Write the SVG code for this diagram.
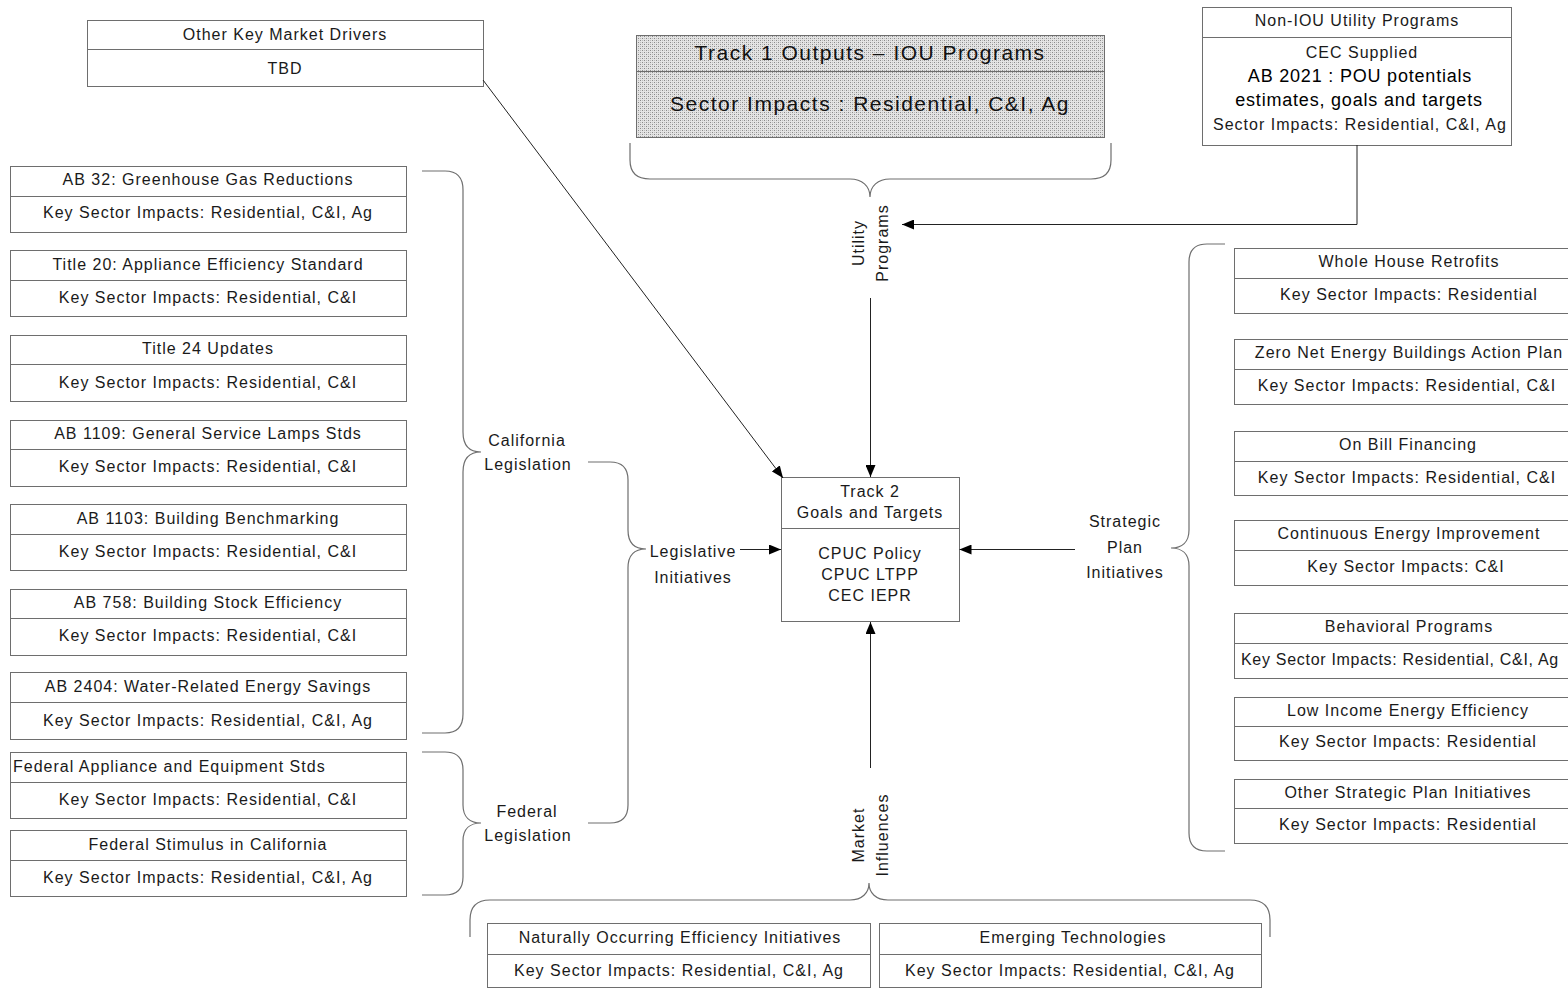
<svg xmlns="http://www.w3.org/2000/svg" width="1568" height="988" viewBox="0 0 1568 988">
  <style>
    text { font-family: "Liberation Sans", Arial, sans-serif; font-size: 16px; letter-spacing: 1px; fill: #1a1a1a; text-anchor: middle; dominant-baseline: central; }
    .box { fill: #ffffff; stroke: #6e6e6e; stroke-width: 1; }
    .div { stroke: #6e6e6e; stroke-width: 1; }
    .brace { fill: none; stroke: #6e6e6e; stroke-width: 1.2; }
    .conn { fill: none; stroke: #222; stroke-width: 1; }
    .big { font-size: 21px; letter-spacing: 1.5px; fill: #111; }
    .mid { font-size: 18px; letter-spacing: 0.8px; fill: #000; }
    .left { text-anchor: start; }
    .tight { letter-spacing: 0.7px; }
  </style>
  <defs>
    <pattern id="stipple" width="4" height="4" patternUnits="userSpaceOnUse">
      <rect width="4" height="4" fill="#e4e4e4"/>
      <rect x="0" y="0" width="1" height="1" fill="#8a8a8a"/>
      <rect x="2" y="2" width="1" height="1" fill="#8a8a8a"/>
      <rect x="2" y="0" width="1" height="1" fill="#bcbcbc"/>
      <rect x="0" y="2" width="1" height="1" fill="#bcbcbc"/>
    </pattern>
    <marker id="arrow" viewBox="0 0 12 10" refX="12" refY="5" markerWidth="12" markerHeight="10" markerUnits="userSpaceOnUse" orient="auto">
      <path d="M0,0 L12,5 L0,10 Z" fill="#000"/>
    </marker>
  </defs>

  <rect width="1568" height="988" fill="#ffffff"/>

  <!-- top nodes -->
  <g id="other-drivers">
    <rect class="box" x="87.5" y="20.5" width="396" height="66"/>
    <line class="div" x1="87.5" y1="49.5" x2="483.5" y2="49.5"/>
    <text x="285" y="34">Other Key Market Drivers</text>
    <text x="285" y="68">TBD</text>
  </g>

  <g id="track1">
    <rect x="636.5" y="35.5" width="468" height="102" fill="url(#stipple)" stroke="#6e6e6e"/>
    <line class="div" x1="636.5" y1="71.5" x2="1104.5" y2="71.5"/>
    <text class="big" x="870" y="52">Track 1 Outputs – IOU Programs</text>
    <text class="big" x="870" y="103">Sector Impacts : Residential, C&amp;I, Ag</text>
  </g>

  <g id="non-iou">
    <rect class="box" x="1202.5" y="7.5" width="309" height="138"/>
    <line class="div" x1="1202.5" y1="37.5" x2="1511.5" y2="37.5"/>
    <text x="1357" y="20">Non-IOU Utility Programs</text>
    <text x="1362" y="52">CEC Supplied</text>
    <text class="mid" x="1360" y="76">AB 2021 : POU potentials</text>
    <text class="mid" x="1359" y="100">estimates, goals and targets</text>
    <text x="1360" y="124">Sector Impacts: Residential, C&amp;I, Ag</text>
  </g>

  <!-- central node -->
  <g id="track2">
    <rect class="box" x="781.5" y="477.5" width="178" height="144"/>
    <line class="div" x1="781.5" y1="528.5" x2="959.5" y2="528.5"/>
    <text x="870" y="491">Track 2</text>
    <text x="870" y="512">Goals and Targets</text>
    <text x="870" y="553">CPUC Policy</text>
    <text x="870" y="574">CPUC LTPP</text>
    <text x="870" y="595">CEC IEPR</text>
  </g>

  <!-- California / federal legislation column -->
  <g id="ab32">
    <rect class="box" x="10.5" y="166.5" width="396" height="66"/>
    <line class="div" x1="10.5" y1="196.5" x2="406.5" y2="196.5"/>
    <text x="208" y="179">AB 32: Greenhouse Gas Reductions</text>
    <text x="208" y="212">Key Sector Impacts: Residential, C&amp;I, Ag</text>
  </g>
  <g id="title20">
    <rect class="box" x="10.5" y="250.5" width="396" height="66"/>
    <line class="div" x1="10.5" y1="280.5" x2="406.5" y2="280.5"/>
    <text x="208" y="264">Title 20: Appliance Efficiency Standard</text>
    <text x="208" y="297">Key Sector Impacts: Residential, C&amp;I</text>
  </g>
  <g id="title24">
    <rect class="box" x="10.5" y="335.5" width="396" height="66"/>
    <line class="div" x1="10.5" y1="364.5" x2="406.5" y2="364.5"/>
    <text x="208" y="348">Title 24 Updates</text>
    <text x="208" y="382">Key Sector Impacts: Residential, C&amp;I</text>
  </g>
  <g id="ab1109">
    <rect class="box" x="10.5" y="420.5" width="396" height="66"/>
    <line class="div" x1="10.5" y1="449.5" x2="406.5" y2="449.5"/>
    <text x="208" y="433">AB 1109: General Service Lamps Stds</text>
    <text x="208" y="466">Key Sector Impacts: Residential, C&amp;I</text>
  </g>
  <g id="ab1103">
    <rect class="box" x="10.5" y="504.5" width="396" height="66"/>
    <line class="div" x1="10.5" y1="534.5" x2="406.5" y2="534.5"/>
    <text x="208" y="518">AB 1103: Building Benchmarking</text>
    <text x="208" y="551">Key Sector Impacts: Residential, C&amp;I</text>
  </g>
  <g id="ab758">
    <rect class="box" x="10.5" y="589.5" width="396" height="66"/>
    <line class="div" x1="10.5" y1="618.5" x2="406.5" y2="618.5"/>
    <text x="208" y="602">AB 758: Building Stock Efficiency</text>
    <text x="208" y="635">Key Sector Impacts: Residential, C&amp;I</text>
  </g>
  <g id="ab2404">
    <rect class="box" x="10.5" y="672.5" width="396" height="67"/>
    <line class="div" x1="10.5" y1="702.5" x2="406.5" y2="702.5"/>
    <text x="208" y="686">AB 2404: Water-Related Energy Savings</text>
    <text x="208" y="720">Key Sector Impacts: Residential, C&amp;I, Ag</text>
  </g>
  <g id="federal-appliance">
    <rect class="box" x="10.5" y="752.5" width="396" height="66"/>
    <line class="div" x1="10.5" y1="782.5" x2="406.5" y2="782.5"/>
    <text class="left" x="13" y="766">Federal Appliance and Equipment Stds</text>
    <text x="208" y="799">Key Sector Impacts: Residential, C&amp;I</text>
  </g>
  <g id="federal-stimulus">
    <rect class="box" x="10.5" y="830.5" width="396" height="66"/>
    <line class="div" x1="10.5" y1="860.5" x2="406.5" y2="860.5"/>
    <text x="208" y="844">Federal Stimulus in California</text>
    <text x="208" y="877">Key Sector Impacts: Residential, C&amp;I, Ag</text>
  </g>

  <!-- strategic plan column -->
  <g id="whole-house">
    <rect class="box" x="1234.5" y="248.5" width="350" height="65"/>
    <line class="div" x1="1234.5" y1="278.5" x2="1584.5" y2="278.5"/>
    <text x="1409" y="261">Whole House Retrofits</text>
    <text x="1409" y="294">Key Sector Impacts: Residential</text>
  </g>
  <g id="zne">
    <rect class="box" x="1234.5" y="339.5" width="350" height="65"/>
    <line class="div" x1="1234.5" y1="369.5" x2="1584.5" y2="369.5"/>
    <text x="1409" y="352">Zero Net Energy Buildings Action Plan</text>
    <text x="1407" y="385">Key Sector Impacts: Residential, C&amp;I</text>
  </g>
  <g id="on-bill">
    <rect class="box" x="1234.5" y="431.5" width="350" height="64"/>
    <line class="div" x1="1234.5" y1="461.5" x2="1584.5" y2="461.5"/>
    <text x="1408" y="444">On Bill Financing</text>
    <text x="1407" y="477">Key Sector Impacts: Residential, C&amp;I</text>
  </g>
  <g id="continuous">
    <rect class="box" x="1234.5" y="520.5" width="350" height="65"/>
    <line class="div" x1="1234.5" y1="550.5" x2="1584.5" y2="550.5"/>
    <text x="1409" y="533">Continuous Energy Improvement</text>
    <text x="1406" y="566">Key Sector Impacts: C&amp;I</text>
  </g>
  <g id="behavioral">
    <rect class="box" x="1234.5" y="613.5" width="350" height="65"/>
    <line class="div" x1="1234.5" y1="643.5" x2="1584.5" y2="643.5"/>
    <text x="1409" y="626">Behavioral Programs</text>
    <text class="left tight" x="1241" y="659">Key Sector Impacts: Residential, C&amp;I, Ag</text>
  </g>
  <g id="low-income">
    <rect class="box" x="1234.5" y="697.5" width="350" height="63"/>
    <line class="div" x1="1234.5" y1="726.5" x2="1584.5" y2="726.5"/>
    <text x="1408" y="710">Low Income Energy Efficiency</text>
    <text x="1408" y="741">Key Sector Impacts: Residential</text>
  </g>
  <g id="other-strategic">
    <rect class="box" x="1234.5" y="779.5" width="350" height="64"/>
    <line class="div" x1="1234.5" y1="808.5" x2="1584.5" y2="808.5"/>
    <text x="1408" y="792">Other Strategic Plan Initiatives</text>
    <text x="1408" y="824">Key Sector Impacts: Residential</text>
  </g>

  <!-- market influence boxes -->
  <g id="naturally-occurring">
    <rect class="box" x="487.5" y="923.5" width="383" height="64"/>
    <line class="div" x1="487.5" y1="954.5" x2="870.5" y2="954.5"/>
    <text x="680" y="937">Naturally Occurring Efficiency Initiatives</text>
    <text x="679" y="970">Key Sector Impacts: Residential, C&amp;I, Ag</text>
  </g>
  <g id="emerging-tech">
    <rect class="box" x="879.5" y="923.5" width="382" height="64"/>
    <line class="div" x1="879.5" y1="954.5" x2="1261.5" y2="954.5"/>
    <text x="1073" y="937">Emerging Technologies</text>
    <text x="1070" y="970">Key Sector Impacts: Residential, C&amp;I, Ag</text>
  </g>

  <!-- grouping braces and their labels -->
  <g id="group-labels">
    <path class="brace" d="M630,143 V160 Q630,179 650,179 H850 C862,179 870,186 870,197 C870,186 878,179 890,179 H1091 Q1111,179 1111,160 V143"/>
    <text transform="translate(858,243) rotate(-90)">Utility</text>
    <text transform="translate(882,243) rotate(-90)">Programs</text>

    <path class="brace" d="M422,171 H445 Q463,171 463,190 V432 C463,446 470,452 481,452 C470,452 463,458 463,472 V714 Q463,733 445,733 H422"/>
    <text x="527" y="440">California</text>
    <text x="528" y="464">Legislation</text>

    <path class="brace" d="M422,752 H445 Q463,752 463,770 V805 C463,817 470,823 481,823 C470,823 463,829 463,841 V877 Q463,895 445,895 H422"/>
    <text x="527" y="811">Federal</text>
    <text x="528" y="835">Legislation</text>

    <path class="brace" d="M588,462 H610 Q628,462 628,480 V530 C628,542 634,549 646,549 C634,549 628,556 628,568 V805 Q628,823 610,823 H588"/>
    <text x="693" y="551">Legislative</text>
    <text x="693" y="577">Initiatives</text>

    <path class="brace" d="M1225,244 H1207 Q1189,244 1189,262 V530 C1189,542 1182,548 1171,548 C1182,548 1189,554 1189,566 V833 Q1189,851 1207,851 H1225"/>
    <text x="1125" y="521">Strategic</text>
    <text x="1125" y="547">Plan</text>
    <text x="1125" y="572">Initiatives</text>

    <path class="brace" d="M470,937 V920 Q470,900 490,900 H850 C862,900 869,893 869,883 C869,893 876,900 888,900 H1250 Q1270,900 1270,920 V937"/>
    <text transform="translate(858,835) rotate(-90)">Market</text>
    <text transform="translate(882,835) rotate(-90)">Influences</text>
  </g>

  <!-- connectors -->
  <g id="connectors">
    <polyline class="conn" points="1357,145 1357,224.5 902,224.5" marker-end="url(#arrow)"/>
    <line class="conn" x1="870.5" y1="298" x2="870.5" y2="477" marker-end="url(#arrow)"/>
    <line class="conn" x1="483" y1="80" x2="783" y2="478" marker-end="url(#arrow)"/>
    <line class="conn" x1="740" y1="549.5" x2="781" y2="549.5" marker-end="url(#arrow)"/>
    <line class="conn" x1="1075" y1="549.5" x2="959.5" y2="549.5" marker-end="url(#arrow)"/>
    <line class="conn" x1="870.5" y1="768" x2="870.5" y2="622" marker-end="url(#arrow)"/>
  </g>
</svg>
